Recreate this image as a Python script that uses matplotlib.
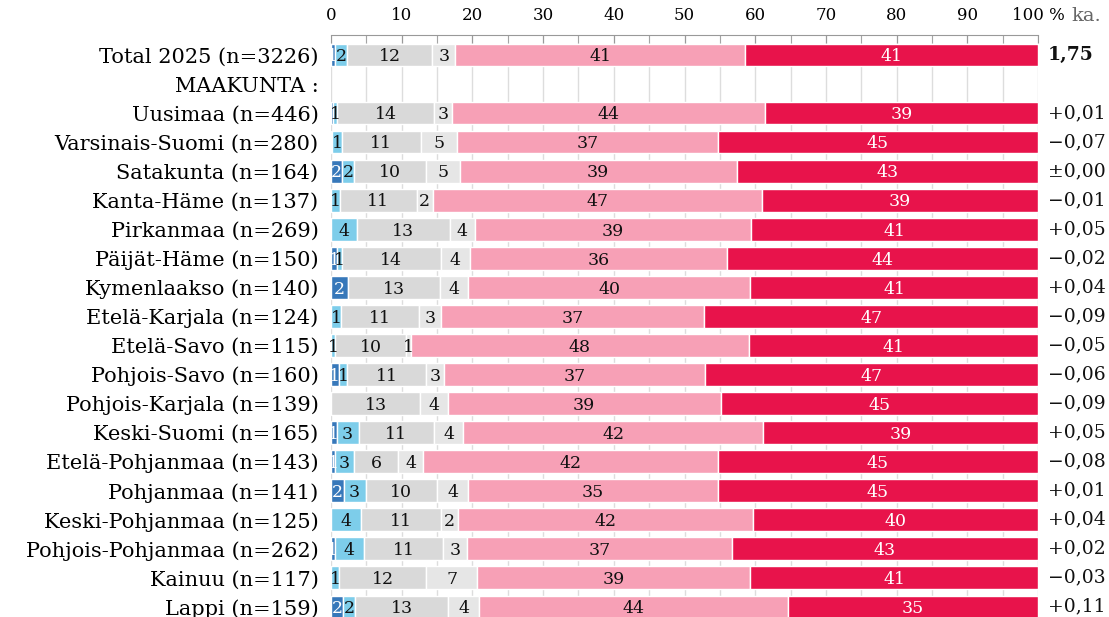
import numpy as np
import matplotlib
matplotlib.use("Agg")
import matplotlib.pyplot as plt
from matplotlib.transforms import blended_transform_factory

plt.rcParams['font.family'] = ['DejaVu Serif', 'DejaVu Sans']

# rivit: Total, otsikkorivi, maakunnat
rows = ["Total 2025 (n=3226)", "MAAKUNTA :", "Uusimaa (n=446)", "Varsinais-Suomi (n=280)",
        "Satakunta (n=164)", "Kanta-Häme (n=137)", "Pirkanmaa (n=269)", "Päijät-Häme (n=150)",
        "Kymenlaakso (n=140)", "Etelä-Karjala (n=124)", "Etelä-Savo (n=115)",
        "Pohjois-Savo (n=160)", "Pohjois-Karjala (n=139)", "Keski-Suomi (n=165)",
        "Etelä-Pohjanmaa (n=143)", "Pohjanmaa (n=141)", "Keski-Pohjanmaa (n=125)",
        "Pohjois-Pohjanmaa (n=262)", "Kainuu (n=117)", "Lappi (n=159)"]

nan = np.nan
s1 = [0.5, nan, 0.3, 0.2, 1.6, 0, 0, 0.9, 2.4, 0, 0, 1.1, 0, 0.8, 0.6, 1.8, 0, 0.5, 0, 1.7]
s2 = [1.8, nan, 0.6, 1.3, 1.7, 1.3, 3.7, 0.6, 0, 1.4, 0.6, 1.2, 0, 3.1, 2.6, 3.1, 4.3, 4.1, 1.2, 1.7]
s3 = [12.0, nan, 13.6, 11.2, 10.1, 10.8, 13.1, 14.0, 13.0, 11.0, 10.0, 11.1, 12.6, 10.7, 6.3, 10.1, 11.3, 11.3, 12.3, 13.2]
s4 = [3.3, nan, 2.6, 5.1, 4.8, 2.3, 3.5, 4.2, 4.0, 3.2, 0.7, 2.6, 3.9, 4.1, 3.5, 4.4, 2.3, 3.4, 7.2, 4.3]
s5 = [41.0, nan, 44.3, 36.9, 39.2, 46.6, 39.1, 36.3, 39.9, 37.2, 47.8, 36.9, 38.6, 42.4, 41.7, 35.3, 41.8, 37.4, 38.6, 43.8]
s6 = [41.4, nan, 38.6, 45.3, 42.6, 39.0, 40.6, 44.0, 40.7, 47.2, 40.9, 47.1, 44.9, 38.9, 45.3, 45.3, 40.3, 43.3, 40.7, 35.3]

ka = ["1,75", "", "+0,01", "−0,07", "±0,00", "−0,01", "+0,05", "−0,02", "+0,04", "−0,09",
      "−0,05", "−0,06", "−0,09", "+0,05", "−0,08", "+0,01", "+0,04", "+0,02", "−0,03", "+0,11"]

colors = ["#3778ba", "#7dcdea", "#d9d9d9", "#e6e6e6", "#f7a0b6", "#e8134b"]
txt_colors = ["white", "#111111", "#111111", "#111111", "#111111", "white"]

fig = plt.figure(figsize=(11.09, 6.17), dpi=100)
ax = fig.add_axes([331 / 1109, 0, 707 / 1109, 582 / 617])

series = [s1, s2, s3, s4, s5, s6]
y = np.arange(len(rows))
left = np.zeros(len(rows))
for k, s in enumerate(series):
    vals = np.array(s, dtype=float)
    for i in range(len(rows)):
        v = vals[i]
        if np.isnan(v) or v <= 0:
            continue
        bar = ax.barh(y[i], v, left=left[i], height=0.78, color=colors[k],
                      edgecolor="white", linewidth=1, zorder=2)[0]
        n = int(v + 0.5)
        if n >= 1:
            t = ax.text(left[i] + v / 2, y[i] + 0.06, str(n), ha="center", va="center",
                        fontsize=12.5, color=txt_colors[k], zorder=3)
            if k == 0:
                t.set_clip_path(bar)
        left[i] += v

ax.set_xlim(0, 100)
ax.set_ylim(19.35, -0.69)

ax.xaxis.tick_top()
ax.set_xticks(range(0, 101, 10))
ax.set_xticks(range(5, 100, 10), minor=True)
ax.set_xticklabels([str(v) for v in range(0, 100, 10)] + ["100 %"], fontsize=12)
ax.tick_params(axis="x", which="both", direction="in", length=6, color="#999999", pad=8)
ax.grid(axis="x", which="both", color="#dddddd", linewidth=1)
ax.set_axisbelow(True)

ax.set_yticks(y)
ax.set_yticklabels(rows, fontsize=15)
ax.tick_params(axis="y", length=0, pad=9)

for sp in ["left", "right", "bottom"]:
    ax.spines[sp].set_visible(False)
ax.spines["top"].set_color("#999999")

tr = blended_transform_factory(ax.transAxes, ax.transData)
for i, s in enumerate(ka):
    ax.text(1.0141, y[i], s, transform=tr, ha="left", va="center", fontsize=13.5,
            fontweight="bold" if i == 0 else "normal", color="#111111")

fig.text(1071 / 1109, 1 - 16 / 617, "ka.", ha="left", va="center", fontsize=14, color="#666666")

fig.savefig("out.png", dpi=100)
